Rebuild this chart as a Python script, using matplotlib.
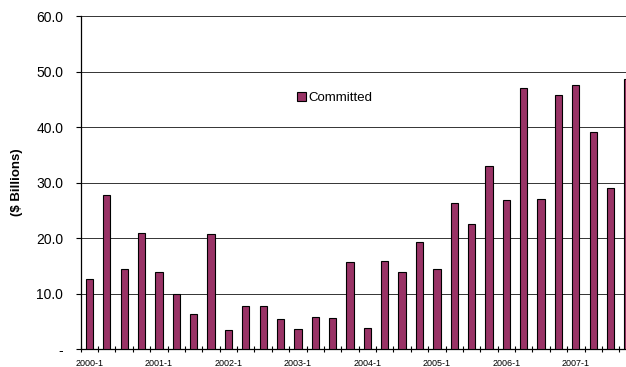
"""
Quarterly committed amounts, bar chart.
"""
import numpy as np
import matplotlib
matplotlib.use('Agg')
import matplotlib.pyplot as plt

# data, $ billions per quarter
quarters = [str(y) + '-' + str(q) for y in range(2000, 2008) for q in range(1, 5)]
committed = [12.7, 27.7, 14.4, 21.0, 13.8, 9.9, 6.3, 20.7,
             3.4, 7.7, 7.7, 5.5, 3.6, 5.8, 5.6, 15.7,
             3.8, 15.9, 13.8, 19.2, 14.4, 26.4, 22.6, 33.0,
             26.9, 47.0, 27.0, 45.8, 47.5, 39.2, 29.1, 48.6]
yticks = [0, 10, 20, 30, 40, 50, 60]
ytick_labels = ['-', '10.0', '20.0', '30.0', '40.0', '50.0', '60.0']

plt.rcParams['font.family'] = ['Liberation Sans', 'DejaVu Sans']

fig = plt.figure(figsize=(6.26, 3.67), dpi=100)
# the right edge of the plot runs past the figure, the last bar is clipped
ax = fig.add_axes([0.129, 0.049, 0.888, 0.907])

x = np.arange(len(quarters))
ax.bar(x, committed, width=0.42, color='#993366', edgecolor='black',
       linewidth=0.8, label='Committed', zorder=3)

ax.set_xlim(-0.5, len(quarters) - 0.5)
ax.set_ylim(0, 60)

# y axis
ax.set_yticks(yticks)
ax.set_yticklabels(ytick_labels, fontsize=10)
ax.tick_params(axis='y', direction='out', length=3.6, width=0.8, pad=9)
ax.yaxis.grid(True, color='#333333', linewidth=0.7, zorder=0)
ax.set_ylabel('($ Billions)', fontsize=9.5, fontweight='bold')
ax.yaxis.set_label_coords(-0.104, 0.5)

# x axis: labels under the first quarter of each year, ticks between bars
ax.set_xticks(x[::4])
ax.set_xticklabels(quarters[::4], fontsize=6.5)
ax.set_xticks(np.arange(len(quarters) + 1) - 0.5, minor=True)
ax.tick_params(axis='x', which='major', length=0, pad=7)
ax.tick_params(axis='x', which='minor', direction='inout', length=5,
               width=0.8)

for side in ['top', 'right']:
    ax.spines[side].set_visible(False)
ax.spines['left'].set_linewidth(0.9)
ax.spines['bottom'].set_linewidth(0.9)

ax.legend(loc='center left', bbox_to_anchor=(0.389, 0.755), frameon=False,
          fontsize=9.5, handlelength=0.7, handleheight=0.7,
          handletextpad=0.15, borderpad=0, borderaxespad=0)

fig.savefig('out.png', dpi=100)
